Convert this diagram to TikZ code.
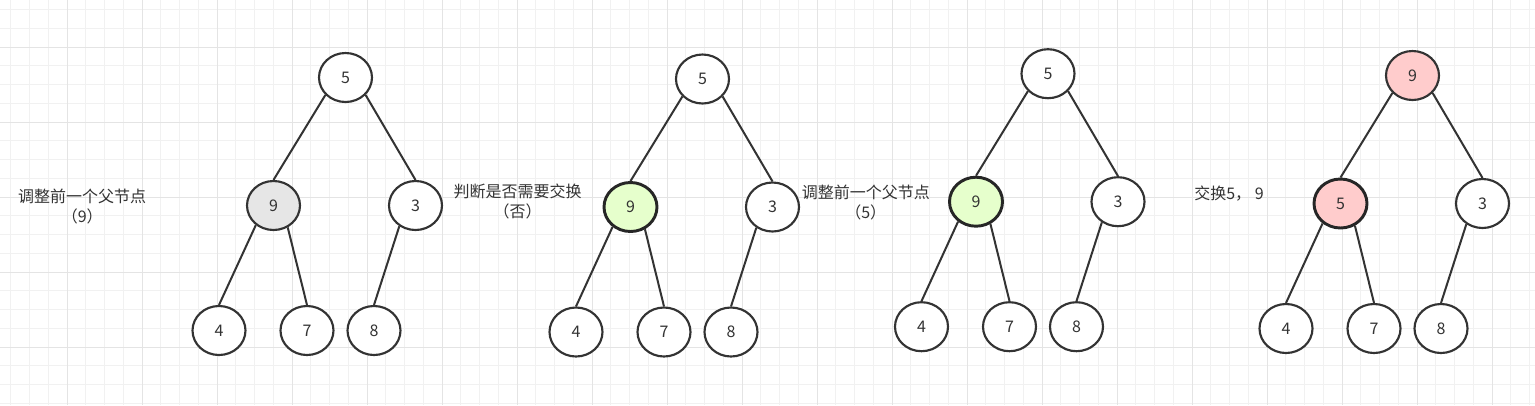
\documentclass[tikz,border=0pt]{standalone}
\usepackage{fontspec}
\setmainfont{Noto Sans CJK SC}
\usetikzlibrary{shapes.geometric}
\definecolor{ink}{HTML}{333333}
\definecolor{gminor}{HTML}{F1F1F1}
\definecolor{gmajor}{HTML}{E4E4E4}
\definecolor{grayfill}{HTML}{E6E6E6}
\definecolor{greenfill}{HTML}{E6FFCC}
\definecolor{pinkfill}{HTML}{FFCCCC}
\tikzset{
  hnode/.style={ellipse, draw=ink, line width=1.6pt, fill=white, minimum width=39.75pt, minimum height=36.75pt, inner sep=0pt, text=ink, font=\fontsize{12}{15}\selectfont},
  hot/.style={line width=2.2pt, draw=black!85},
  edge/.style={draw=ink, line width=1.5pt},
  lbl/.style={align=center, text=ink, font=\fontsize{12}{15}\selectfont, inner sep=0pt},
}
\newcommand{\heaptree}[7]{%
  % #1 prefix, #2 root x, #3 root y, #4 root label, #5 left label, #6 root style, #7 left style
  \node[hnode,#6] (#1r) at (#2,#3) {#4};
  \node[hnode,#7] (#1a) at ({#2-72},{#3+128}) {#5};
  \node[hnode] (#1b) at ({#2+70},{#3+128}) {3};
  \node[hnode] (#1c) at ({#2-126.5},{#3+253}) {4};
  \node[hnode] (#1d) at ({#2-38.5},{#3+253}) {7};
  \node[hnode] (#1e) at ({#2+28.5},{#3+253}) {8};
  \draw[edge] (#1r.221) -- (#1a.north);
  \draw[edge] (#1r.319) -- (#1b.north);
  \draw[edge] (#1a.228) -- (#1c.north);
  \draw[edge] (#1a.303) -- (#1d.north);
  \draw[edge] (#1b.232) -- (#1e.north);
}
\begin{document}
\begin{tikzpicture}[x=0.75pt,y=-0.75pt]
\useasboundingbox (0,0) rectangle (1535,405);
\fill[white] (0,0) rectangle (1535,405);
% grid
\foreach \i in {1,...,82} \draw[gminor, line width=0.75pt] ({-8+18.75*\i},0) -- ({-8+18.75*\i},405);
\foreach \j in {-2,...,19} \draw[gminor, line width=0.75pt] (0,{47+18.75*\j}) -- (1535,{47+18.75*\j});
\foreach \i in {1,...,20} \draw[gmajor, line width=0.75pt] ({-8+75*\i},0) -- ({-8+75*\i},405);
\foreach \j in {0,...,4} \draw[gmajor, line width=0.75pt] (0,{47+75*\j}) -- (1535,{47+75*\j});
% trees
\heaptree{t1}{345.5}{77.5}{5}{9}{}{fill=grayfill}
\heaptree{t2}{702.5}{79}{5}{9}{}{fill=greenfill,hot}
\heaptree{t3}{1048}{73.7}{5}{9}{}{fill=greenfill,hot}
\heaptree{t4}{1412.5}{75.5}{9}{5}{fill=pinkfill}{fill=pinkfill,hot}
% labels
\node[lbl] (l1) at (82.2,206.7) {调整前一个父节点\\（9）};
\node[lbl] (l2) at (517.7,201.2) {判断是否需要交换\\（否）};
\node[lbl] (l3) at (865.8,202.7) {调整前一个父节点\\（5）};
\node[lbl] (l4) at (1229,194) {交换5， 9};
\end{tikzpicture}
\end{document}
